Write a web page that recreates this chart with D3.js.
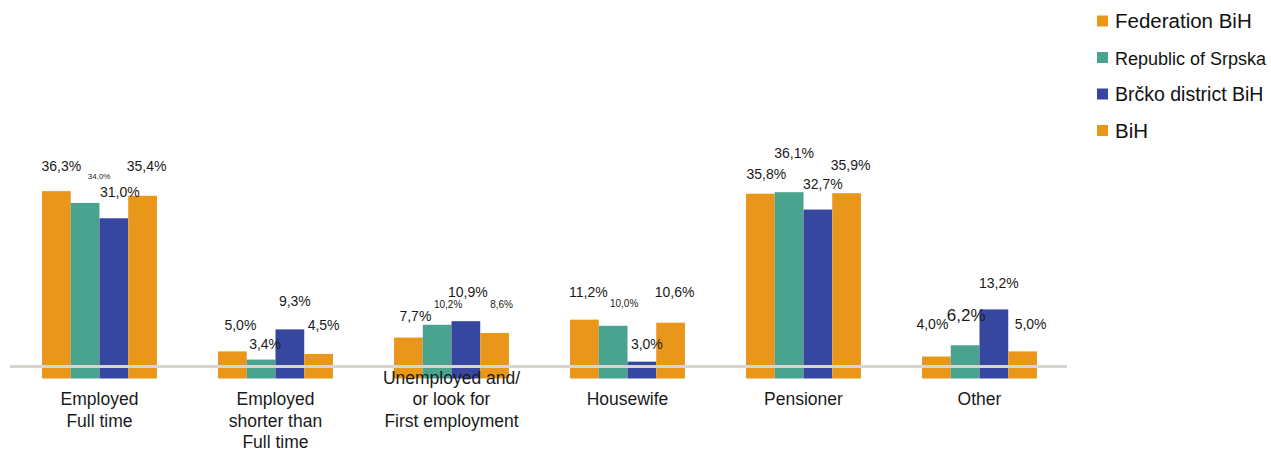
<!DOCTYPE html>
<html>
<head>
<meta charset="utf-8">
<script src="https://cdn.jsdelivr.net/npm/d3@7/dist/d3.min.js"></script>
<style>
  html, body { margin: 0; padding: 0; background: #ffffff; }
  svg { display: block; font-family: "Liberation Sans", Arial, sans-serif; }
</style>
</head>
<body>
<svg id="chart" width="1271" height="452"></svg>
<script>
// Status of respondents by entity (%)
const categories = [
  "Employed\nFull time",
  "Employed\nshorter than\nFull time",
  "Unemployed and/\nor look for\nFirst employment",
  "Housewife",
  "Pensioner",
  "Other"
];
const seriesNames = ["Federation BiH", "Republic of Srpska", "Brčko district BiH", "BiH"];
const federation = [36.3, 5.0, 7.7, 11.2, 35.8, 4.0];
const srpska     = [34.0, 3.4, 10.2, 10.0, 36.1, 6.2];
const brcko      = [31.0, 9.3, 10.9, 3.0, 32.7, 13.2];
const bih        = [35.4, 4.5, 8.6, 10.6, 35.9, 5.0];

// Presentation settings
const colors = ["#E8971B", "#4AA38F", "#3747A0", "#E8971B"];
const legendSizes = [20.5, 18, 19.5, 20.5];
// value-label font size per [category][series]
const labelSizes = [
  [14, 8, 14, 14],
  [14, 14, 14, 14],
  [14, 10, 14, 10],
  [14, 10, 14, 14],
  [14, 14, 14, 14],
  [14, 17, 14, 14]
];
// value-label offset [dx, dy] from each bar's top centre
const labelNudge = [
  [[5, -20], [14, -24], [6, -21], [4, -25]],
  [[8, -21], [4, -11], [5, -23], [5, -24]],
  [[7, -17], [11, -17], [2, -24], [7, -25]],
  [[4, -23], [11, -19], [5, -13], [4, -26]],
  [[6, -15], [5, -34], [5, -21], [4, -23]],
  [[-4, -28], [1, -24], [5, -21], [8, -22]]
];
// first line of each category label, relative to the common first line
const categoryLineShift = [0, 0, -1, 0, 0, 0];

const seriesValues = [federation, srpska, brcko, bih];
const rows = categories.map((c, i) => ({
  category: c,
  i,
  values: seriesValues.map((vals, s) => ({ s, value: vals[i] }))
}));

const svg = d3.select("#chart");

const x0 = d3.scaleBand()
  .domain(d3.range(categories.length))
  .range([10, 1069])
  .paddingInner(0.347)
  .paddingOuter(0.182);

const x1 = d3.scaleBand()
  .domain(d3.range(seriesNames.length))
  .range([0, x0.bandwidth()]);

const y = d3.scaleLinear().domain([0, 40]).range([377, 172.2]);

const fmt = v => d3.format(".1f")(v).replace(".", ",") + "%";

// bars
const groups = svg.append("g").selectAll("g")
  .data(rows)
  .join("g")
  .attr("transform", d => `translate(${x0(d.i)},0)`);

groups.selectAll("rect")
  .data(d => d.values)
  .join("rect")
  .attr("x", d => x1(d.s))
  .attr("width", x1.bandwidth())
  .attr("y", d => y(d.value))
  .attr("height", d => y(0) - y(d.value) + 1.5)
  .attr("fill", d => colors[d.s]);

// baseline
svg.append("line")
  .attr("x1", x0.range()[0])
  .attr("x2", x0.range()[1] - 2)
  .attr("y1", y(0) - 10.5)
  .attr("y2", y(0) - 10.5)
  .attr("stroke", "#D8D5D1")
  .attr("stroke-width", 3);

// value labels
groups.selectAll("text.value")
  .data(d => d.values.map(v => ({ ...v, i: d.i })))
  .join("text")
  .attr("class", "value")
  .attr("x", d => x1(d.s) + x1.bandwidth() / 2 + labelNudge[d.i][d.s][0])
  .attr("y", d => y(d.value) + labelNudge[d.i][d.s][1])
  .attr("text-anchor", "middle")
  .attr("font-size", d => labelSizes[d.i][d.s])
  .attr("fill", "#1a1a1a")
  .text(d => fmt(d.value));

// category labels
const catAxis = svg.append("g");
rows.forEach(d => {
  const t = catAxis.append("text")
    .attr("text-anchor", "middle")
    .attr("font-size", 17.5)
    .attr("fill", "#1a1a1a");
  d.category.split("\n").forEach((line, k) => {
    t.append("tspan")
      .attr("x", x0(d.i) + x0.bandwidth() / 2)
      .attr("y", 405 + (k + categoryLineShift[d.i]) * 21.5)
      .text(line);
  });
});

// legend
const legend = svg.append("g").attr("transform", "translate(1097,0)");
const legendRows = legend.selectAll("g")
  .data(seriesNames)
  .join("g")
  .attr("transform", (d, i) => `translate(0,${28 + i * 36.5})`);
legendRows.append("rect")
  .attr("x", 0)
  .attr("y", -12.5)
  .attr("width", 11)
  .attr("height", 11)
  .attr("fill", (d, i) => colors[i]);
legendRows.append("text")
  .attr("x", 18)
  .attr("y", 0)
  .attr("font-size", (d, i) => legendSizes[i])
  .attr("fill", "#111")
  .text(d => d);
</script>
</body>
</html>
